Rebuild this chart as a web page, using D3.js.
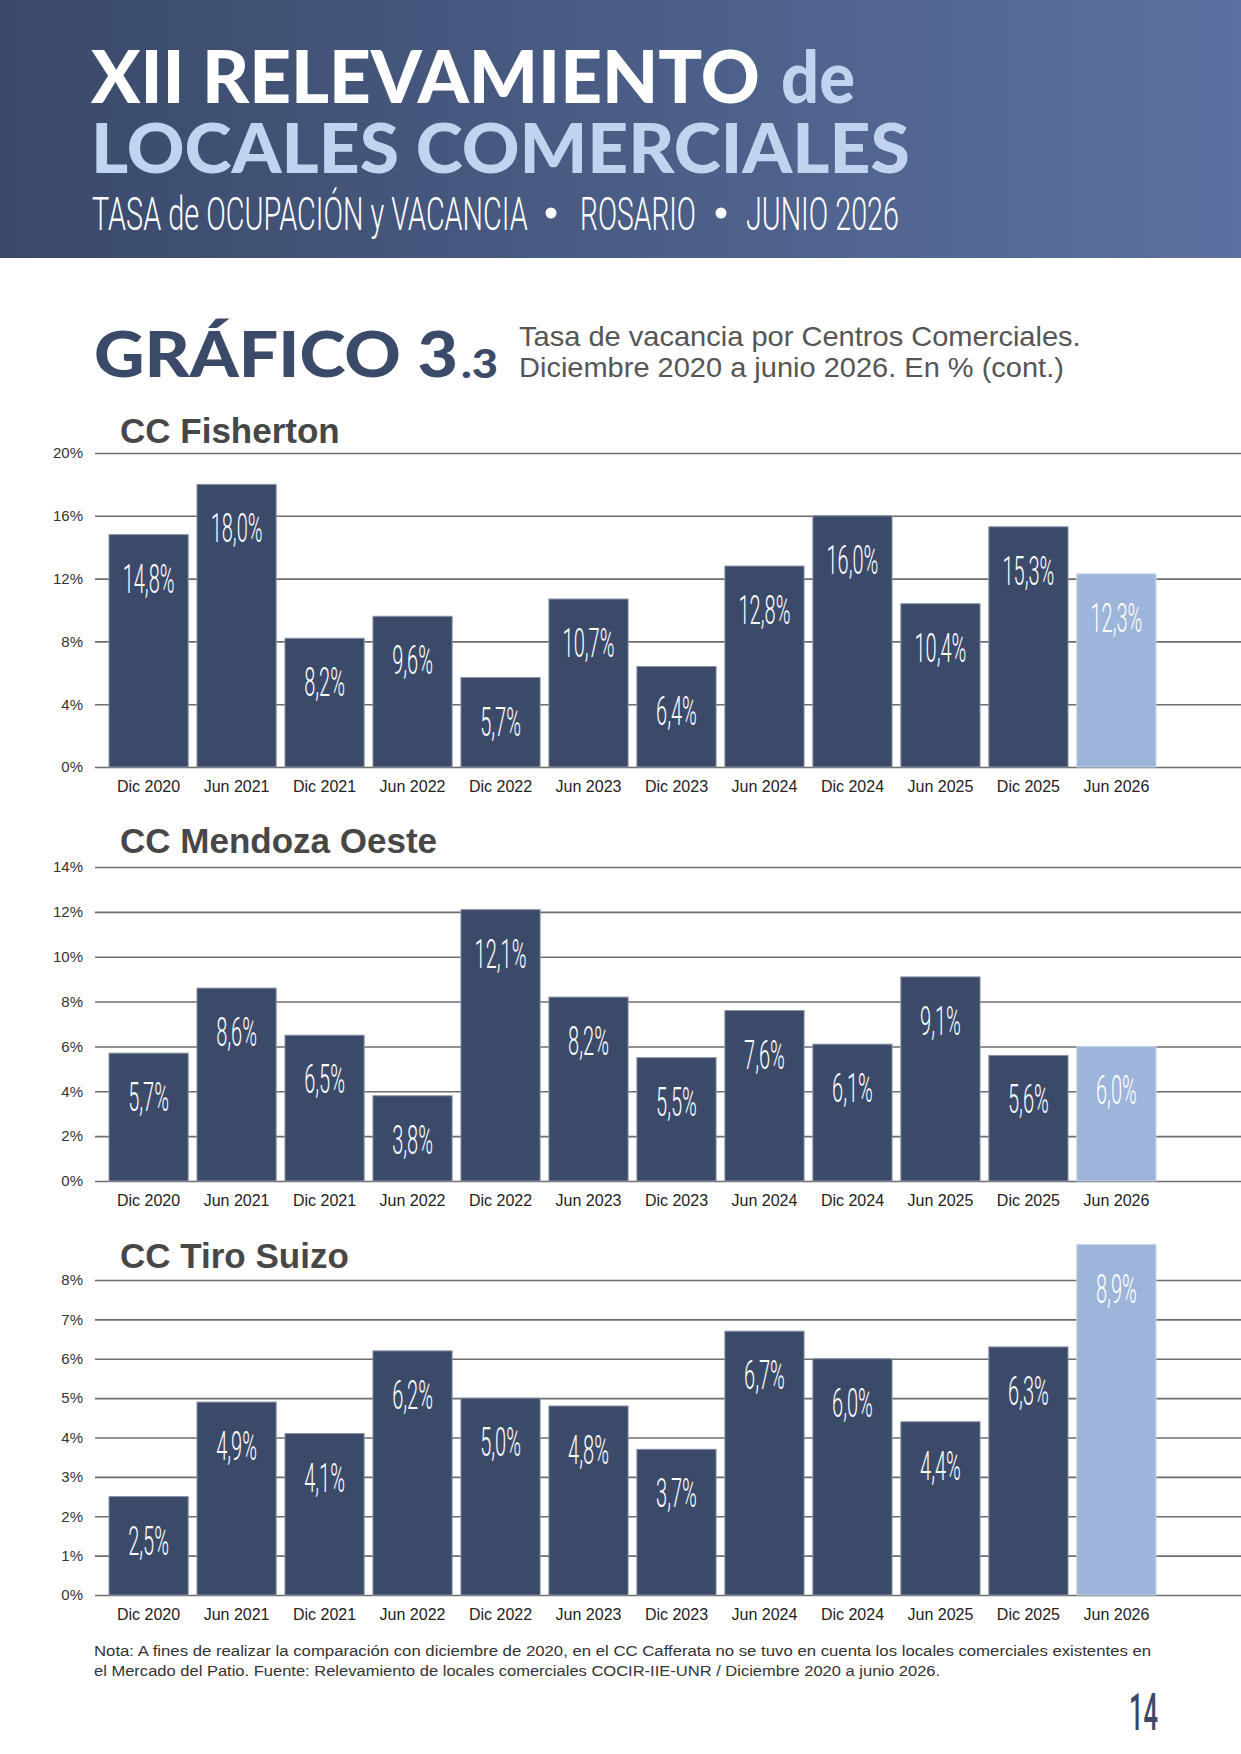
<!DOCTYPE html>
<html>
<head>
<meta charset="utf-8">
<script src="https://d3js.org/d3.v7.min.js"></script>
<style>
  body { margin: 0; background: #fff; }
  svg { display: block; }
</style>
</head>
<body>
<div id="page"></div>
<script>
// data
var periods = ['Dic 2020', 'Jun 2021', 'Dic 2021', 'Jun 2022', 'Dic 2022', 'Jun 2023',
    'Dic 2023', 'Jun 2024', 'Dic 2024', 'Jun 2025', 'Dic 2025', 'Jun 2026'];

var fisherton = [14.8, 18.0, 8.2, 9.6, 5.7, 10.7, 6.4, 12.8, 16.0, 10.4, 15.3, 12.3];
var mendozaOeste = [5.7, 8.6, 6.5, 3.8, 12.1, 8.2, 5.5, 7.6, 6.1, 9.1, 5.6, 6.0];
var tiroSuizo = [2.5, 4.9, 4.1, 6.2, 5.0, 4.8, 3.7, 6.7, 6.0, 4.4, 6.3, 8.9];

var fishertonTicks = [0, 4, 8, 12, 16, 20];
var mendozaTicks = [0, 2, 4, 6, 8, 10, 12, 14];
var tiroTicks = [0, 1, 2, 3, 4, 5, 6, 7, 8];

var chartTitles = ['CC Fisherton', 'CC Mendoza Oeste', 'CC Tiro Suizo'];

var svgWidth = 1241;
var svgHeight = 1754;

var dark = '#3c4a6a';
var light = '#9db5da';

var svg = d3.select('#page').append('svg')
    .attr('width', svgWidth)
    .attr('height', svgHeight)

// squeeze/stretch a text horizontally so it spans w pixels from x
function fitText(str, x, y, w, font, fill) {
    var t = svg.append('text')
        .style('font', font)
        .attr('fill', fill)
        .text(str)
    var natural = t.node().getComputedTextLength()
    t.attr('transform', `translate(${x},${y}) scale(${w / natural},1)`)
    return t
}

// header band
var grad = svg.append('defs').append('linearGradient')
    .attr('id', 'hdr')
    .attr('x1', '0%').attr('x2', '100%')
grad.append('stop').attr('offset', '0%').attr('stop-color', '#3a4969')
grad.append('stop').attr('offset', '100%').attr('stop-color', '#5a71a1')

svg.append('rect')
    .attr('width', svgWidth)
    .attr('height', 258)
    .attr('fill', 'url(#hdr)')

fitText('XII RELEVAMIENTO', 91, 103, 669, '900 72px Lato', '#fff')
fitText('de', 781, 103, 74, '900 72px Lato', '#c2d3ef')
fitText('LOCALES COMERCIALES', 91, 173, 819, '900 68px Lato', '#c2d3ef')

// subtitle line, pieces placed apart with round bullets between
fitText('TASA de OCUPACIÓN y VACANCIA', 92, 230, 436, '300 46px Roboto', '#fff')
fitText('ROSARIO', 580, 230, 116, '300 46px Roboto', '#fff')
fitText('JUNIO 2026', 746, 230, 153, '300 46px Roboto', '#fff')

svg.selectAll('.dot')
    .data([551, 721])
    .enter()
    .append('circle')
    .attr('class', 'dot')
    .attr('cx', d => d).attr('cy', 213)
    .attr('r', 5.5)
    .attr('fill', '#fff')

// grafico title
fitText('GRÁFICO 3', 94, 377, 364, '900 63px Lato', dark)
fitText('.3', 461, 378, 37, '900 39px Lato', dark)

fitText('Tasa de vacancia por Centros Comerciales.', 519, 346, 562, '27px "Liberation Sans", Arial', '#555')
fitText('Diciembre 2020 a junio 2026. En % (cont.)', 519, 377, 545, '27px "Liberation Sans", Arial', '#555')

// the three charts
var charts = [
    { title: chartTitles[0], values: fisherton, ticks: fishertonTicks, top: 453, bottom: 767, titleY: 443 },
    { title: chartTitles[1], values: mendozaOeste, ticks: mendozaTicks, top: 867, bottom: 1181, titleY: 853 },
    { title: chartTitles[2], values: tiroSuizo, ticks: tiroTicks, top: 1280, bottom: 1595, titleY: 1268 }
]

var xScale = d3.scaleBand()
    .domain(periods)
    .range([109, 1156])
    .paddingInner(0.1)
    .paddingOuter(0)
    .align(0)

var fmt = v => v.toFixed(1).replace('.', ',') + '%'

charts.forEach(function(c) {

    var g = svg.append('g')

    var yScale = d3.scaleLinear()
        .domain([0, d3.max(c.ticks)])
        .range([c.bottom, c.top])

    g.append('text')
        .attr('x', 120).attr('y', c.titleY)
        .style('font', 'bold 35px "Liberation Sans", Arial')
        .attr('fill', '#474747')
        .text(c.title)

    // gridlines + tick labels
    var yAxis = g.append('g')
        .attr('transform', 'translate(95,0)')
        .call(d3.axisLeft(yScale)
            .tickValues(c.ticks)
            .tickSize(-(svgWidth - 95))
            .tickPadding(12)
            .tickFormat(d => d + '%'))

    yAxis.select('.domain').remove()
    yAxis.selectAll('line')
        .attr('stroke', '#6e6e6e')
        .attr('stroke-width', 1.6)
    yAxis.selectAll('text')
        .style('font', '15px "Liberation Sans", Arial')
        .attr('fill', '#333')

    // bars
    g.selectAll('.bar')
        .data(c.values)
        .enter()
        .append('rect')
        .attr('class', 'bar')
        .attr('x', (d, i) => xScale(periods[i]))
        .attr('y', d => yScale(d))
        .attr('width', xScale.bandwidth())
        .attr('height', d => c.bottom - yScale(d))
        .attr('fill', (d, i) => i === periods.length - 1 ? light : dark)
        .attr('stroke', (d, i) => i === periods.length - 1 ? '#c4d2e8' : '#8891a6')
        .attr('stroke-width', 1)

    // value labels inside bars
    g.selectAll('.val')
        .data(c.values)
        .enter()
        .append('text')
        .attr('class', 'val')
        .attr('transform', (d, i) => `translate(${xScale(periods[i]) + xScale.bandwidth() / 2},${yScale(d) + 58}) scale(0.5,1)`)
        .attr('text-anchor', 'middle')
        .style('font', '300 40px Roboto')
        .attr('fill', '#fff')
        .text(d => fmt(d))

    // x labels
    var xAxis = g.append('g')
        .attr('transform', `translate(0,${c.bottom})`)
        .call(d3.axisBottom(xScale).tickSize(0).tickPadding(14))

    xAxis.select('.domain').remove()
    xAxis.selectAll('text')
        .style('font', '16px "Liberation Sans", Arial')
        .attr('fill', '#222')
})

// note
fitText('Nota: A fines de realizar la comparación con diciembre de 2020, en el CC Cafferata no se tuvo en cuenta los locales comerciales existentes en',
    94, 1656, 1058, '15px "Liberation Sans", Arial', '#333')
fitText('el Mercado del Patio. Fuente: Relevamiento de locales comerciales COCIR-IIE-UNR / Diciembre 2020 a junio 2026.',
    94, 1676, 847, '15px "Liberation Sans", Arial', '#333')

// page number
fitText('14', 1129, 1730, 29, '500 52px Roboto', dark)
</script>
</body>
</html>
